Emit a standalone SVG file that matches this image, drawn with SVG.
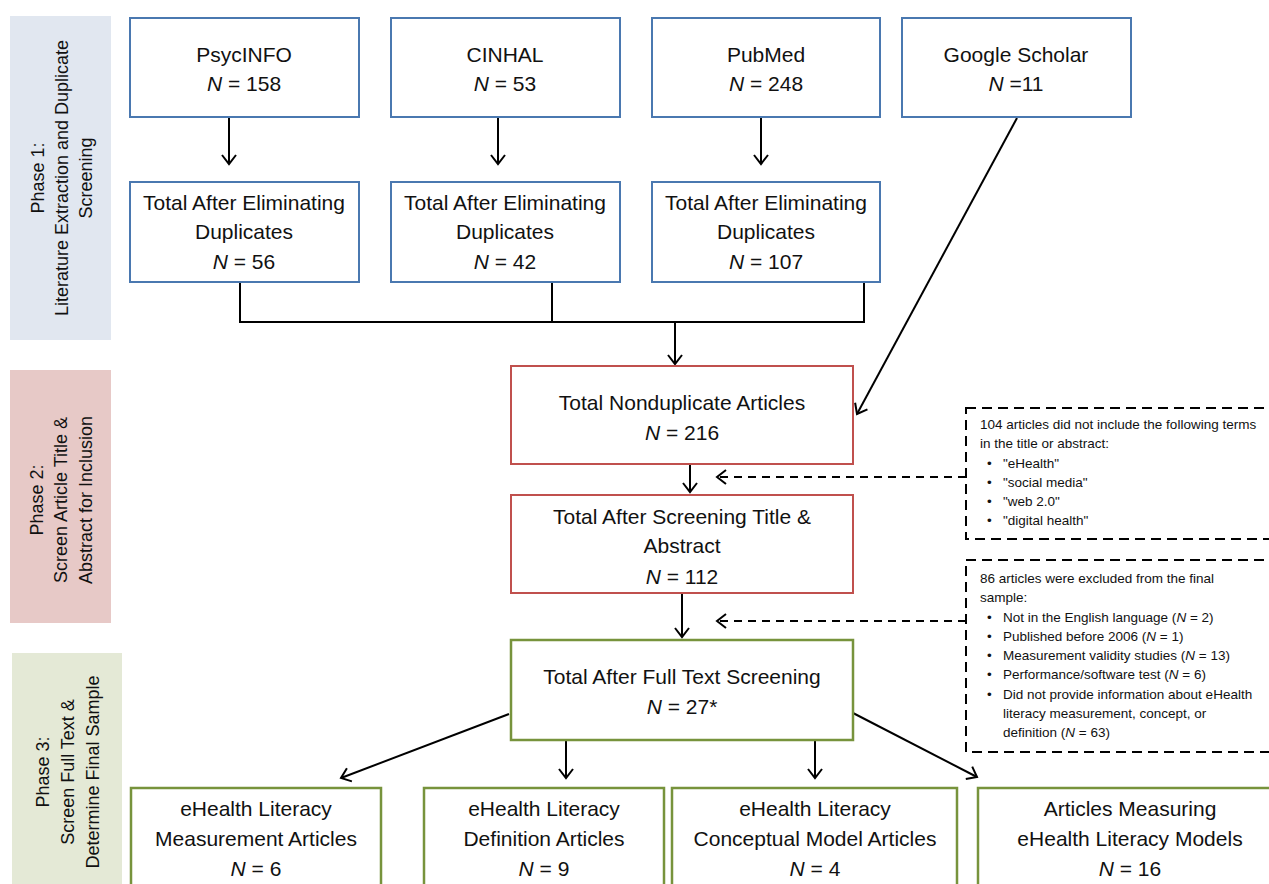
<svg xmlns="http://www.w3.org/2000/svg" width="1269" height="884" viewBox="0 0 1269 884">
<defs>
<marker id="ah" markerUnits="userSpaceOnUse" markerWidth="16" markerHeight="16" viewBox="0 0 16 16" refX="11" refY="8" orient="auto">
<path d="M2,1 L11,8 L2,15" fill="none" stroke="#000" stroke-width="2"/>
</marker>
<style>
text{font-family:"Liberation Sans Narrow","Arial Narrow","Liberation Sans",Arial,sans-serif;fill:#111;}
.t{font-size:21px;text-anchor:middle;}
.ph{font-size:18px;text-anchor:middle;}
.n{font-size:13.5px;}
.i{font-style:italic;}
.blue{fill:#fff;stroke:#4a78b0;stroke-width:2;}
.red{fill:#fff;stroke:#c0504d;stroke-width:2;}
.green{fill:#fff;stroke:#77933c;stroke-width:2.5;}
.dash{fill:#fff;stroke:#000;stroke-width:2;stroke-dasharray:10,6;}
.c{fill:none;stroke:#000;stroke-width:2;}
.ca{fill:none;stroke:#000;stroke-width:2;marker-end:url(#ah);}
.cd{fill:none;stroke:#000;stroke-width:2;stroke-dasharray:8,6;marker-end:url(#ah);}
</style>
</defs>
<rect width="1269" height="884" fill="#fff"/>

<g id="phase1">
<rect x="10" y="16" width="101" height="324" fill="#e1e7f0"/>
<g transform="translate(0,178) rotate(-90)">
<text class="ph" x="0" y="44">Phase 1:</text>
<text class="ph" x="0" y="68">Literature Extraction and Duplicate</text>
<text class="ph" x="0" y="92">Screening</text>
</g>
</g>
<g id="phase2">
<rect x="10" y="370" width="101" height="253" fill="#e7c9c7"/>
<g transform="translate(0,500) rotate(-90)">
<text class="ph" x="0" y="43">Phase 2:</text>
<text class="ph" x="0" y="67">Screen Article Title &amp;</text>
<text class="ph" x="0" y="92">Abstract for Inclusion</text>
</g>
</g>
<g id="phase3">
<rect x="12" y="653" width="110" height="240" fill="#e4e9d6"/>
<g transform="translate(0,772) rotate(-90)">
<text class="ph" x="0" y="49">Phase 3:</text>
<text class="ph" x="0" y="74">Screen Full Text &amp;</text>
<text class="ph" x="0" y="99">Determine Final Sample</text>
</g>
</g>

<g id="connectors">
<line class="ca" x1="229" y1="118" x2="229" y2="164"/>
<line class="ca" x1="498" y1="118" x2="498" y2="164"/>
<line class="ca" x1="761" y1="118" x2="761" y2="164"/>
<path class="c" d="M240,283 V322 M552,283 V322 M864,283 V322 M239,322 H865"/>
<line class="ca" x1="675" y1="322" x2="675" y2="364"/>
<line class="ca" x1="1017" y1="118" x2="857" y2="414"/>
<line class="ca" x1="690" y1="465" x2="690" y2="492"/>
<line class="ca" x1="682" y1="594" x2="682" y2="637"/>
<line class="cd" x1="966" y1="477" x2="717" y2="477"/>
<line class="cd" x1="966" y1="621" x2="717" y2="621"/>
<line class="ca" x1="509" y1="714" x2="341" y2="778"/>
<line class="ca" x1="566" y1="741" x2="566" y2="778"/>
<line class="ca" x1="815" y1="741" x2="815" y2="778"/>
<line class="ca" x1="853" y1="713" x2="977" y2="777"/>
</g>

<g id="psycinfo">
<rect class="blue" x="130" y="18" width="229" height="99"/>
<text class="t" x="244" y="62">PsycINFO</text>
<text class="t" x="244" y="91"><tspan class="i">N</tspan> = 158</text>
</g>
<g id="cinhal">
<rect class="blue" x="391" y="18" width="229" height="99"/>
<text class="t" x="505" y="62">CINHAL</text>
<text class="t" x="505" y="91"><tspan class="i">N</tspan> = 53</text>
</g>
<g id="pubmed">
<rect class="blue" x="652" y="18" width="228" height="99"/>
<text class="t" x="766" y="62">PubMed</text>
<text class="t" x="766" y="91"><tspan class="i">N</tspan> = 248</text>
</g>
<g id="scholar">
<rect class="blue" x="902" y="18" width="229" height="99"/>
<text class="t" x="1016" y="62">Google Scholar</text>
<text class="t" x="1016" y="91"><tspan class="i">N</tspan> =11</text>
</g>

<g id="dedup1">
<rect class="blue" x="130" y="182" width="229" height="100"/>
<text class="t" x="244" y="210">Total After Eliminating</text>
<text class="t" x="244" y="239">Duplicates</text>
<text class="t" x="244" y="269"><tspan class="i">N</tspan> = 56</text>
</g>
<g id="dedup2">
<rect class="blue" x="391" y="182" width="229" height="100"/>
<text class="t" x="505" y="210">Total After Eliminating</text>
<text class="t" x="505" y="239">Duplicates</text>
<text class="t" x="505" y="269"><tspan class="i">N</tspan> = 42</text>
</g>
<g id="dedup3">
<rect class="blue" x="652" y="182" width="228" height="100"/>
<text class="t" x="766" y="210">Total After Eliminating</text>
<text class="t" x="766" y="239">Duplicates</text>
<text class="t" x="766" y="269"><tspan class="i">N</tspan> = 107</text>
</g>

<g id="nondup">
<rect class="red" x="511" y="366" width="342" height="98"/>
<text class="t" x="682" y="410">Total Nonduplicate Articles</text>
<text class="t" x="682" y="440"><tspan class="i">N</tspan> = 216</text>
</g>
<g id="screened">
<rect class="red" x="511" y="495" width="342" height="98"/>
<text class="t" x="682" y="524">Total After Screening Title &amp;</text>
<text class="t" x="682" y="553">Abstract</text>
<text class="t" x="682" y="584"><tspan class="i">N</tspan> = 112</text>
</g>
<g id="fulltext">
<rect class="green" x="511" y="640" width="342" height="100"/>
<text class="t" x="682" y="684">Total After Full Text Screening</text>
<text class="t" x="682" y="714"><tspan class="i">N</tspan> = 27*</text>
</g>

<g id="excl1">
<rect class="dash" x="966" y="408" width="320" height="131"/>
<text class="n" x="980" y="429">104 articles did not include the following terms</text>
<text class="n" x="980" y="448">in the title or abstract:</text>
<text class="n" x="987" y="468">•</text><text class="n" x="1003" y="468">"eHealth"</text>
<text class="n" x="987" y="487">•</text><text class="n" x="1003" y="487">"social media"</text>
<text class="n" x="987" y="506">•</text><text class="n" x="1003" y="506">"web 2.0"</text>
<text class="n" x="987" y="525">•</text><text class="n" x="1003" y="525">"digital health"</text>
</g>
<g id="excl2">
<rect class="dash" x="966" y="560" width="320" height="192"/>
<text class="n" x="980" y="583">86 articles were excluded from the final</text>
<text class="n" x="980" y="602">sample:</text>
<text class="n" x="987" y="622">•</text><text class="n" x="1003" y="622">Not in the English language (<tspan class="i">N</tspan> = 2)</text>
<text class="n" x="987" y="641">•</text><text class="n" x="1003" y="641">Published before 2006 (<tspan class="i">N</tspan> = 1)</text>
<text class="n" x="987" y="660">•</text><text class="n" x="1003" y="660">Measurement validity studies (<tspan class="i">N</tspan> = 13)</text>
<text class="n" x="987" y="679">•</text><text class="n" x="1003" y="679">Performance/software test (<tspan class="i">N</tspan> = 6)</text>
<text class="n" x="987" y="699">•</text><text class="n" x="1003" y="699">Did not provide information about eHealth</text>
<text class="n" x="1003" y="718">literacy measurement, concept, or</text>
<text class="n" x="1003" y="737">definition (<tspan class="i">N</tspan> = 63)</text>
</g>

<g id="measurement">
<rect class="green" x="131" y="788" width="250" height="110"/>
<text class="t" x="256" y="816">eHealth Literacy</text>
<text class="t" x="256" y="846">Measurement Articles</text>
<text class="t" x="256" y="876"><tspan class="i">N</tspan> = 6</text>
</g>
<g id="definition">
<rect class="green" x="424" y="788" width="240" height="110"/>
<text class="t" x="544" y="816">eHealth Literacy</text>
<text class="t" x="544" y="846">Definition Articles</text>
<text class="t" x="544" y="876"><tspan class="i">N</tspan> = 9</text>
</g>
<g id="conceptual">
<rect class="green" x="672" y="788" width="285" height="110"/>
<text class="t" x="815" y="816">eHealth Literacy</text>
<text class="t" x="815" y="846">Conceptual Model Articles</text>
<text class="t" x="815" y="876"><tspan class="i">N</tspan> = 4</text>
</g>
<g id="models">
<rect class="green" x="978" y="788" width="305" height="110"/>
<text class="t" x="1130" y="816">Articles Measuring</text>
<text class="t" x="1130" y="846">eHealth Literacy Models</text>
<text class="t" x="1130" y="876"><tspan class="i">N</tspan> = 16</text>
</g>
</svg>
